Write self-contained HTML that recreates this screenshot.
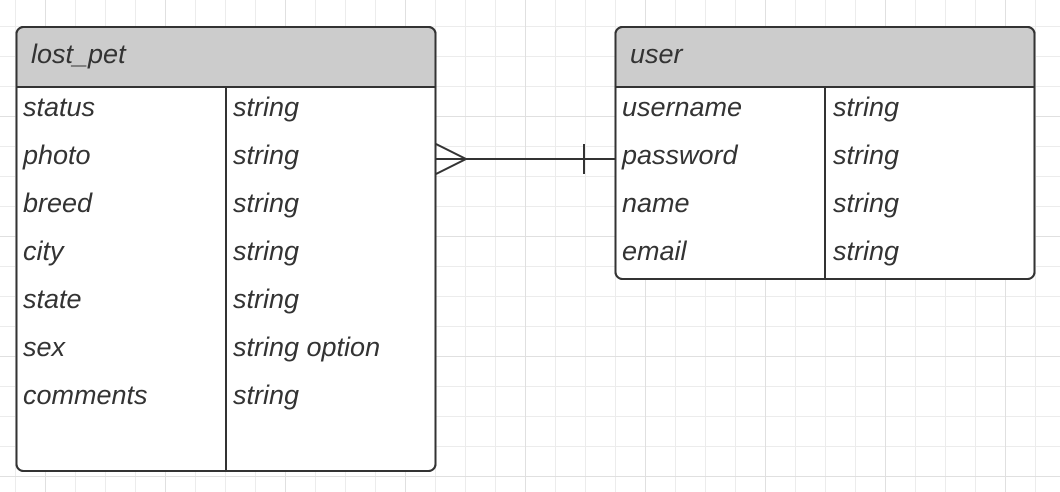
<!DOCTYPE html>
<html><head><style>
body{margin:0;width:1060px;height:492px;overflow:hidden;background:#fff;
background-image:linear-gradient(#e0e0e0 1px,transparent 1px),linear-gradient(90deg,#e0e0e0 1px,transparent 1px),linear-gradient(#ececec 1px,transparent 1px),linear-gradient(90deg,#ececec 1px,transparent 1px);
background-size:120px 120px,120px 120px,30px 30px,30px 30px;
background-position:0 116px,45px 0,0 26px,15px 0;
font-family:"Liberation Sans",sans-serif;}
.t{position:absolute;font-style:italic;font-size:27px;color:#333;white-space:nowrap;line-height:30px}
</style></head><body>
<svg width="1060" height="492" style="position:absolute;left:0;top:0">
<g stroke="#333" stroke-width="2" fill="none">
<rect x="16.5" y="27" width="419" height="444" rx="7" fill="#fff"/>
<path d="M16.5,87 V34 a7,7 0 0 1 7,-7 H428.5 a7,7 0 0 1 7,7 V87 Z" fill="#ccc"/>
<rect x="16.5" y="27" width="419" height="444" rx="7"/>
<line x1="16" y1="87" x2="436" y2="87"/>
<line x1="226" y1="87" x2="226" y2="471"/>
<rect x="615.5" y="27" width="419" height="252" rx="7" fill="#fff"/>
<path d="M615.5,87 V34 a7,7 0 0 1 7,-7 H1027.5 a7,7 0 0 1 7,7 V87 Z" fill="#ccc"/>
<rect x="615.5" y="27" width="419" height="252" rx="7"/>
<line x1="615" y1="87" x2="1035" y2="87"/>
<line x1="825" y1="87" x2="825" y2="279"/>
<line x1="436" y1="159" x2="615" y2="159"/>
<path d="M436,144 L466,159 L436,174"/>
<line x1="584" y1="144" x2="584" y2="174"/>
</g></svg>
<div class="t" style="left:31px;top:39px">lost_pet</div>
<div class="t" style="left:630px;top:39px">user</div>
<div class="t" style="left:23px;top:92px">status</div><div class="t" style="left:233px;top:92px">string</div>
<div class="t" style="left:23px;top:140px">photo</div><div class="t" style="left:233px;top:140px">string</div>
<div class="t" style="left:23px;top:188px">breed</div><div class="t" style="left:233px;top:188px">string</div>
<div class="t" style="left:23px;top:236px">city</div><div class="t" style="left:233px;top:236px">string</div>
<div class="t" style="left:23px;top:284px">state</div><div class="t" style="left:233px;top:284px">string</div>
<div class="t" style="left:23px;top:332px">sex</div><div class="t" style="left:233px;top:332px">string option</div>
<div class="t" style="left:23px;top:380px">comments</div><div class="t" style="left:233px;top:380px">string</div>
<div class="t" style="left:622px;top:92px">username</div><div class="t" style="left:833px;top:92px">string</div>
<div class="t" style="left:622px;top:140px">password</div><div class="t" style="left:833px;top:140px">string</div>
<div class="t" style="left:622px;top:188px">name</div><div class="t" style="left:833px;top:188px">string</div>
<div class="t" style="left:622px;top:236px">email</div><div class="t" style="left:833px;top:236px">string</div>
</body></html>
